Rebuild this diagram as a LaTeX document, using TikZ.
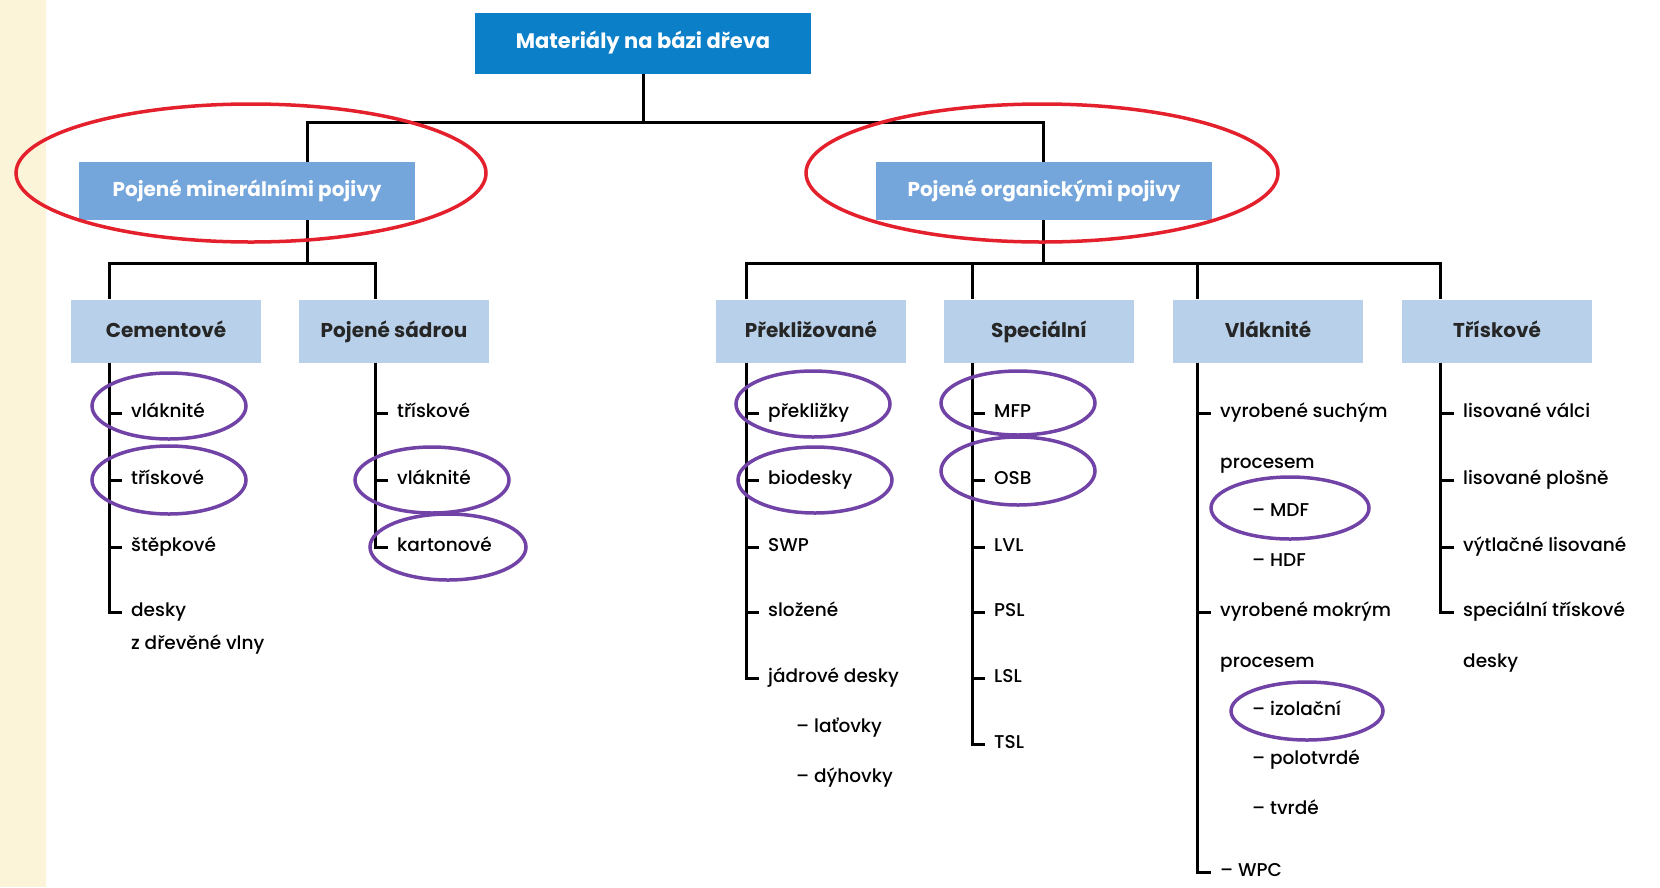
\documentclass[tikz,border=0pt]{standalone}
\usepackage{fontspec}
\setmainfont{Poppins}
\newfontfamily\itemfont{Poppins Medium}
\usetikzlibrary{
  positioning,
  calc
}
\definecolor{topblue}{HTML}{0B7FC7}
\definecolor{midblue}{HTML}{74A6DB}
\definecolor{catblue}{HTML}{B8D0EA}
\definecolor{ringred}{HTML}{E3202B}
\definecolor{ringviolet}{HTML}{7143A6}
\definecolor{cream}{HTML}{FBF4D9}

\tikzset{
  topbox/.style = {fill=topblue, text=white, minimum width=336pt, minimum height=61pt,
                   font=\fontsize{21}{25}\selectfont\bfseries},
  midbox/.style = {fill=midblue, text=white, minimum width=336pt, minimum height=58pt,
                   font=\fontsize{20}{24}\selectfont\bfseries},
  catbox/.style = {fill=catblue, text=black!85, minimum width=190pt, minimum height=63pt,
                   text height=13pt, text depth=1pt,
                   font=\fontsize{20}{24}\selectfont\bfseries},
  item/.style   = {anchor=west, inner sep=0pt, text height=13pt, text depth=4pt,
                   font=\fontsize{18.5}{23}\itemfont},
  tree/.style   = {line width=3pt, black},
  redring/.style    = {draw=ringred, line width=3.5pt},
  violetring/.style = {draw=ringviolet, line width=3.5pt}
}

\begin{document}
\begin{tikzpicture}[x=1pt, y=-1pt]
    \useasboundingbox (0,0) rectangle (1660,887);
    \fill[cream] (0,0) rectangle (46,887);

    % main boxes
    \node[topbox] (root) at (643,43) {Materiály na bázi dřeva};
    \node[midbox] (mineral) at (247,191) {Pojené minerálními pojivy};
    \node[midbox] (organic) at (1044,191) {Pojené organickými pojivy};

    \node[catbox] (cement)  at (166,331)  {Cementové};
    \node[catbox] (gypsum)  at (394,331)  {Pojené sádrou};
    \node[catbox] (ply)     at (811,331)  {Překližované};
    \node[catbox] (special) at (1039,331) {Speciální};
    \node[catbox] (fibre)   at (1268,331) {Vláknité};
    \node[catbox] (chip)    at (1497,331) {Třískové};

    % junctions
    \coordinate (jMin)  at (307,122);
    \coordinate (jOrg)  at (1043,122);
    \coordinate (hMin)  at (307,263);
    \coordinate (hOrg)  at (1043,263);
    \coordinate (jCem)  at (109,263);
    \coordinate (jGyp)  at (375,263);
    \coordinate (jPly)  at (746,263);
    \coordinate (jSpec) at (972,263);
    \coordinate (jFib)  at (1197,263);
    \coordinate (jChip) at (1440,263);

    \draw[tree] (root.south) -- (root.south |- jMin);
    \draw[tree] (mineral.north -| jMin) -- (jMin) -- (jOrg) -- (organic.north -| jOrg);
    \draw[tree] (mineral.south -| hMin) -- (hMin);
    \draw[tree] (organic.south -| hOrg) -- (hOrg);
    \draw[tree] (cement.north -| jCem) -- (jCem) -- (jGyp) -- (gypsum.north -| jGyp);
    \draw[tree] (ply.north -| jPly) -- (jPly) -- (jChip) -- (chip.north -| jChip);
    \draw[tree] (jSpec) -- (special.north -| jSpec);
    \draw[tree] (jFib) -- (fibre.north -| jFib);

    % Cementove
    \node[item] (cem1) at (131,413) {vláknité};
    \node[item] (cem2) at (131,480) {třískové};
    \node[item] (cem3) at (131,547) {štěpkové};
    \node[item] (cem4) at (131,612) {desky};
    \node[item] (cem5) at (131,645) {z dřevěné vlny};
    \draw[tree] (cement.south -| jCem) |- ([xshift=-9pt]cem4.west);
    \foreach \n in {cem1,cem2,cem3}
        \draw[tree] (\n.west -| jCem) -- ([xshift=-9pt]\n.west);

    % Pojene sadrou
    \node[item] (gyp1) at (397,413) {třískové};
    \node[item] (gyp2) at (397,480) {vláknité};
    \node[item] (gyp3) at (397,547) {kartonové};
    \draw[tree] (gypsum.south -| jGyp) |- ([xshift=-9pt]gyp3.west);
    \foreach \n in {gyp1,gyp2}
        \draw[tree] (\n.west -| jGyp) -- ([xshift=-9pt]\n.west);

    % Preklizovane
    \node[item] (ply1) at (768,413) {překližky};
    \node[item] (ply2) at (768,480) {biodesky};
    \node[item] (ply3) at (768,547) {SWP};
    \node[item] (ply4) at (768,612) {složené};
    \node[item] (ply5) at (768,678) {jádrové desky};
    \node[item] (ply6) at (796,728) {– laťovky};
    \node[item] (ply7) at (796,778) {– dýhovky};
    \draw[tree] (ply.south -| jPly) |- ([xshift=-9pt]ply5.west);
    \foreach \n in {ply1,ply2,ply3,ply4}
        \draw[tree] (\n.west -| jPly) -- ([xshift=-9pt]\n.west);

    % Specialni
    \node[item] (spec1) at (994,413) {MFP};
    \node[item] (spec2) at (994,480) {OSB};
    \node[item] (spec3) at (994,547) {LVL};
    \node[item] (spec4) at (994,612) {PSL};
    \node[item] (spec5) at (994,678) {LSL};
    \node[item] (spec6) at (994,744) {TSL};
    \draw[tree] (special.south -| jSpec) |- ([xshift=-9pt]spec6.west);
    \foreach \n in {spec1,spec2,spec3,spec4,spec5}
        \draw[tree] (\n.west -| jSpec) -- ([xshift=-9pt]\n.west);

    % Vlaknite
    \node[item] (fib1)  at (1220,413) {vyrobené suchým};
    \node[item] (fib2)  at (1220,464) {procesem};
    \node[item] (fib3)  at (1252,512) {– MDF};
    \node[item] (fib4)  at (1252,562) {– HDF};
    \node[item] (fib5)  at (1220,612) {vyrobené mokrým};
    \node[item] (fib6)  at (1220,663) {procesem};
    \node[item] (fib7)  at (1252,711) {– izolační};
    \node[item] (fib8)  at (1252,760) {– polotvrdé};
    \node[item] (fib9)  at (1252,810) {– tvrdé};
    \node[item] (fib10) at (1220,872) {– WPC};
    \draw[tree] (fibre.south -| jFib) |- ([xshift=-9pt]fib10.west);
    \foreach \n in {fib1,fib5}
        \draw[tree] (\n.west -| jFib) -- ([xshift=-9pt]\n.west);

    % Triskove
    \node[item] (chip1) at (1463,413) {lisované válci};
    \node[item] (chip2) at (1463,480) {lisované plošně};
    \node[item] (chip3) at (1463,547) {výtlačné lisované};
    \node[item] (chip4) at (1463,612) {speciální třískové};
    \node[item] (chip5) at (1463,663) {desky};
    \draw[tree] (chip.south -| jChip) |- ([xshift=-9pt]chip4.west);
    \foreach \n in {chip1,chip2,chip3}
        \draw[tree] (\n.west -| jChip) -- ([xshift=-9pt]\n.west);

    % highlight rings
    \draw[redring] (251,173) ellipse [x radius=235, y radius=69];
    \draw[redring] (1042,173) ellipse [x radius=236, y radius=69];

    \draw[violetring] (169,406) ellipse [x radius=77, y radius=33];
    \draw[violetring] (169,480) ellipse [x radius=77, y radius=34];
    \draw[violetring] (432,480) ellipse [x radius=77, y radius=33];
    \draw[violetring] (448,547) ellipse [x radius=78, y radius=33];
    \draw[violetring] (813,404) ellipse [x radius=77, y radius=33];
    \draw[violetring] (815,480) ellipse [x radius=77, y radius=33];
    \draw[violetring] (1018,403) ellipse [x radius=77, y radius=32];
    \draw[violetring] (1018,471) ellipse [x radius=77, y radius=34];
    \draw[violetring] (1290,508) ellipse [x radius=79, y radius=31];
    \draw[violetring] (1307,711) ellipse [x radius=76, y radius=29];
\end{tikzpicture}
\end{document}
